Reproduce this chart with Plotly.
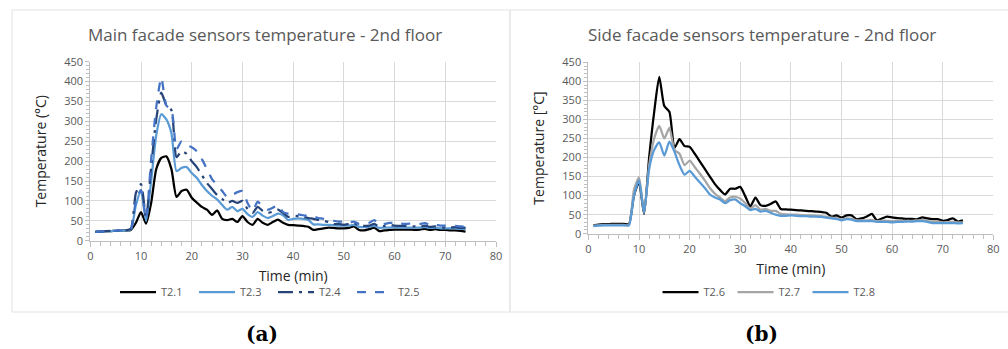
import plotly.graph_objects as go

W, H = 1008, 349

# Time axis (min), one reading per minute
time_min = list(range(1, 75))

# Main facade sensors, 2nd floor (°C)
t2_1 = [22, 23, 24, 24, 25, 25, 26, 27, 45, 72, 43, 95, 180, 208, 212, 180, 110, 125, 128, 108,
        96, 85, 78, 65, 76, 55, 52, 55, 47, 62, 47, 40, 55, 45, 40, 47, 53, 45, 40, 39,
        38, 37, 35, 27, 29, 31, 33, 32, 31, 31, 32, 36, 27, 26, 29, 33, 24, 26, 27, 28,
        28, 28, 28, 27, 28, 30, 27, 29, 27, 27, 26, 26, 25, 23]
t2_3 = [22, 23, 24, 24, 25, 25, 26, 28, 90, 125, 50, 150, 265, 318, 305, 270, 175, 183, 185, 170,
        158, 140, 125, 113, 104, 90, 78, 85, 74, 80, 67, 60, 72, 63, 57, 62, 68, 64, 52, 55,
        56, 55, 52, 41, 41, 40, 40, 39, 38, 38, 38, 40, 35, 34, 35, 37, 32, 33, 33, 34,
        33, 33, 33, 33, 33, 34, 32, 33, 31, 31, 31, 31, 30, 30]
t2_4 = [22, 23, 24, 25, 25, 26, 26, 30, 120, 142, 58, 185, 305, 372, 340, 328, 210, 225, 218, 200,
        185, 165, 145, 130, 115, 105, 95, 100, 95, 100, 80, 70, 85, 75, 70, 73, 78, 70, 60, 63,
        62, 60, 57, 55, 52, 50, 47, 42, 42, 40, 42, 44, 38, 37, 38, 42, 35, 37, 40, 38,
        37, 37, 36, 36, 35, 38, 35, 36, 34, 33, 33, 34, 32, 33]
t2_5 = [22, 23, 24, 25, 25, 26, 27, 30, 100, 128, 55, 205, 335, 410, 340, 330, 230, 250, 240, 235,
        225, 205, 180, 155, 140, 125, 110, 115, 122, 125, 95, 75, 98, 85, 78, 83, 90, 72, 68, 68,
        66, 64, 62, 60, 57, 55, 52, 50, 48, 48, 46, 48, 42, 43, 45, 52, 40, 42, 45, 44,
        43, 42, 43, 42, 42, 44, 40, 40, 38, 38, 37, 37, 36, 35]

# Side facade sensors, 2nd floor (°C)
t2_6 = [22, 24, 25, 25, 26, 26, 26, 25, 100, 135, 52, 200, 320, 412, 335, 320, 225, 248, 230, 228,
        210, 190, 170, 150, 130, 115, 103, 118, 118, 123, 98, 72, 95, 75, 73, 78, 85, 65, 64, 63,
        62, 61, 60, 59, 58, 57, 55, 45, 48, 42, 48, 48, 38, 40, 45, 52, 35, 40, 45, 43,
        41, 40, 39, 39, 38, 43, 40, 38, 38, 34, 36, 40, 32, 35]
t2_7 = [21, 22, 23, 23, 23, 23, 23, 23, 115, 148, 55, 180, 250, 283, 250, 278, 220, 210, 180, 192,
        175, 158, 140, 120, 105, 95, 85, 95, 97, 92, 80, 65, 75, 63, 65, 60, 60, 52, 51, 50,
        50, 49, 48, 48, 47, 46, 45, 42, 41, 38, 40, 39, 35, 35, 35, 36, 33, 34, 34, 33,
        33, 33, 34, 34, 35, 36, 33, 32, 32, 30, 30, 31, 30, 30]
t2_8 = [20, 21, 22, 22, 22, 22, 22, 22, 100, 140, 55, 170, 220, 240, 205, 242, 215, 180, 155, 165,
        150, 135, 120, 103, 95, 90, 80, 88, 90, 80, 72, 62, 65, 58, 60, 55, 50, 47, 47, 48,
        47, 46, 46, 45, 45, 44, 42, 40, 39, 35, 38, 37, 33, 33, 33, 33, 31, 31, 31, 30,
        31, 31, 32, 32, 33, 33, 31, 28, 28, 28, 28, 28, 27, 28]

x_ticks = [0, 10, 20, 30, 40, 50, 60, 70, 80]
y_ticks = [0, 50, 100, 150, 200, 250, 300, 350, 400, 450]

FONT = "Open Sans"
GREY_TXT = "#595959"
GRID = "#d9d9d9"
AXLINE = "#bfbfbf"


def px_x(p):
    return p / W


def px_y(p):
    return (H - p) / H


fig = go.Figure()

left_series = [
    ("T2.1", t2_1, "#000000", "solid"),
    ("T2.3", t2_3, "#5B9BD5", "solid"),
    ("T2.4", t2_4, "#264478", "longdashdot"),
    ("T2.5", t2_5, "#4472C4", "dash"),
]
right_series = [
    ("T2.6", t2_6, "#000000", "solid"),
    ("T2.7", t2_7, "#A5A5A5", "solid"),
    ("T2.8", t2_8, "#5B9BD5", "solid"),
]

for name, vals, col, dash in left_series:
    fig.add_trace(go.Scatter(
        x=time_min, y=vals, name=name, mode="lines",
        line=dict(color=col, width=2.25, dash=dash, shape="spline", smoothing=0.6),
        xaxis="x", yaxis="y", legend="legend",
    ))
for name, vals, col, dash in right_series:
    fig.add_trace(go.Scatter(
        x=time_min, y=vals, name=name, mode="lines",
        line=dict(color=col, width=2.25, dash=dash, shape="spline", smoothing=0.6),
        xaxis="x2", yaxis="y2", legend="legend2",
    ))

tickfont = dict(family=FONT, size=11, color=GREY_TXT)


def xaxis_style(domain, anchor):
    return dict(
        domain=domain, anchor=anchor, range=[0, 80], tickvals=x_ticks,
        showgrid=True, gridcolor=GRID, gridwidth=1, zeroline=False,
        showline=True, linecolor=AXLINE, linewidth=1,
        ticks="outside", ticklen=5, tickcolor=AXLINE,
        minor=dict(dtick=2, ticks="outside", ticklen=4, tickcolor=AXLINE, showgrid=False),
        tickfont=tickfont,
        title=dict(text="Time (min)", font=dict(family=FONT, size=14, color="#262626"), standoff=9),
        automargin=False, fixedrange=True,
    )


def yaxis_style(domain, anchor, title):
    return dict(
        domain=domain, anchor=anchor, range=[0, 450], tickvals=y_ticks,
        showgrid=True, gridcolor=GRID, gridwidth=1, zeroline=False,
        showline=True, linecolor=AXLINE, linewidth=1,
        ticks="outside", ticklen=4, tickcolor=AXLINE,
        minor=dict(dtick=10, ticks="outside", ticklen=3, tickcolor=AXLINE, showgrid=False),
        tickfont=tickfont,
        title=dict(text=title, font=dict(family=FONT, size=14, color="#262626"), standoff=14),
        automargin=False, fixedrange=True,
    )


legend_common = dict(
    orientation="h", xanchor="center", yanchor="middle",
    font=dict(family=FONT, size=11, color=GREY_TXT),
    bgcolor="rgba(0,0,0,0)", entrywidthmode="pixels",
    itemwidth=36, tracegroupgap=0,
)

fig.update_layout(
    width=W, height=H,
    margin=dict(l=0, r=0, t=0, b=0),
    paper_bgcolor="white", plot_bgcolor="white",
    showlegend=True,
    xaxis=xaxis_style([px_x(90.3), px_x(496)], "y"),
    yaxis=yaxis_style([px_y(240.7), px_y(61.7)], "x", "Temperature (°C)"),
    xaxis2=xaxis_style([px_x(588.4), px_x(993.3)], "y2"),
    yaxis2=yaxis_style([px_y(233.7), px_y(62.3)], "x2", "Temperature [°C]"),
    legend=dict(x=px_x(273), y=px_y(292), entrywidth=28, **legend_common),
    legend2=dict(x=px_x(770), y=px_y(292), entrywidth=24, **legend_common),
)

# Panel frames
fig.add_shape(type="rect", xref="paper", yref="paper",
              x0=px_x(12), x1=px_x(510), y0=px_y(312), y1=px_y(10),
              line=dict(color="#e3e3e3", width=1), layer="below")
fig.add_shape(type="rect", xref="paper", yref="paper",
              x0=px_x(510), x1=px_x(1010), y0=px_y(312), y1=px_y(10),
              line=dict(color="#e3e3e3", width=1), layer="below")

# Panel titles
for txt, cx in [("Main facade sensors temperature - 2nd floor", 265),
                ("Side facade sensors temperature - 2nd floor", 762)]:
    fig.add_annotation(text=txt, xref="paper", yref="paper",
                       x=px_x(cx), y=px_y(34), xanchor="center", yanchor="middle",
                       showarrow=False, font=dict(family=FONT, size=17, color=GREY_TXT))

# Panel letters
for txt, cx in [("<b>(a)</b>", 262), ("<b>(b)</b>", 761)]:
    fig.add_annotation(text=txt, xref="paper", yref="paper",
                       x=px_x(cx), y=px_y(334), xanchor="center", yanchor="middle",
                       showarrow=False, font=dict(family="DejaVu Serif", size=20, color="#000000"))

fig.write_html("out.html")
